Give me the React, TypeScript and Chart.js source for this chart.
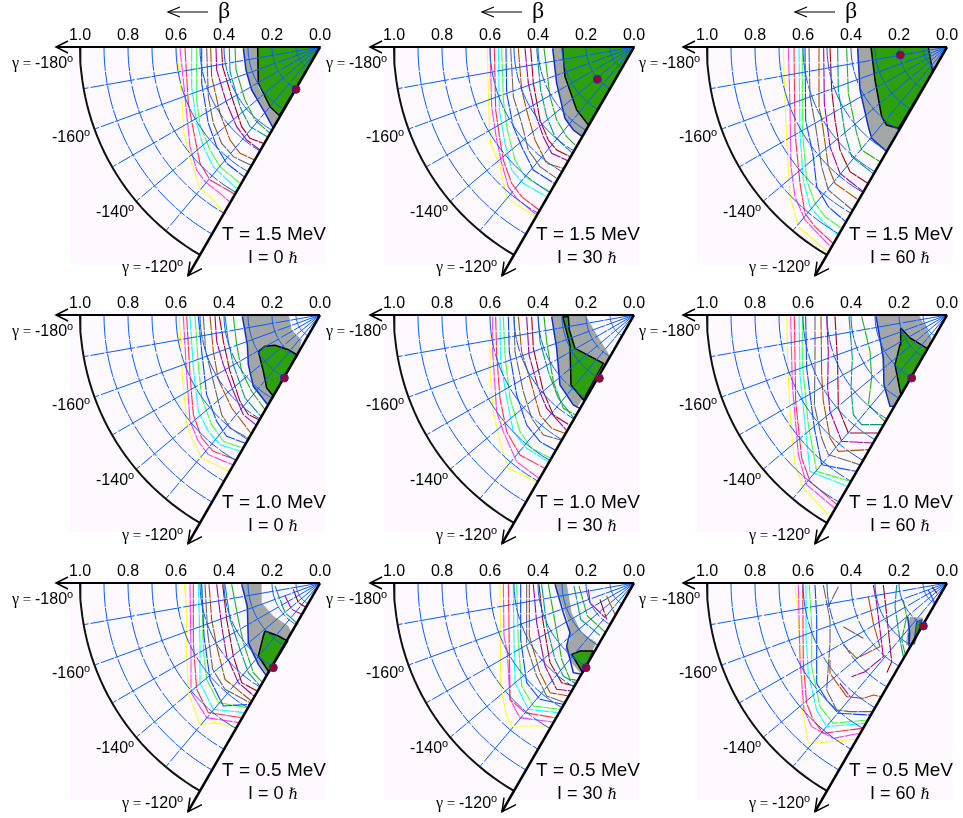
import React, { useEffect, useRef } from "react";
import { Chart, registerables } from "chart.js";
Chart.register(...registerables);

// Deformation plane coordinates: u = beta*cos(gamma+180), v = beta*sin(gamma+180), in 1/720 of beta.
const UNITS = 720;
const betaTicks = [1.0, 0.8, 0.6, 0.4, 0.2, 0.0];
const gridBetas = [0.1, 0.2, 0.3, 0.4, 0.5, 0.6, 0.7, 0.8, 0.9];
const gridGammas = [-170, -160, -150, -140, -130];
const gammaLabels = ["-180", "-160", "-140", "-120"];
const temperatures = ["1.5", "1.0", "0.5"];
const spins = ["0", "30", "60"];
const levelColors = ["#ffff20", "#ff40ee", "#ff3050", "#10ffff", "#40ff40", "#0848ff", "#666666", "#a85400", "#a000a0", "#a00018", "#009c80", "#20b020", "#1030c0"];

const p1Levels = [
  [430,4,415,149,408,259,385,349,360,424,320,459,288,499],
  [420,4,405,149,390,299,370,369,345,404,300,439,272,464],
  [405,4,395,169,380,249,360,349,330,399,258,440],
  [385,4,385,119,370,229,350,299,320,359,250,425],
  [370,4,370,159,360,234,330,309,300,359,240,409],
  [355,4,355,109,335,229,310,299,280,349,228,389],
  [340,4,335,149,320,229,295,289,260,329,208,354],
  [328,4,325,89,300,199,270,279,240,319,196,339],
  [312,4,310,69,280,169,250,239,220,279,180,309],
  [295,4,292,59,265,149,235,239,210,274,170,289],
  [272,4,270,74,240,179,210,239,158,269],
  [255,4,252,69,225,159,195,219,150,259],
  [230,4,222,69,205,129,170,189,140,244],
];
const p1Gray = [230,0,222,69,205,129,170,189,140,244,122,209,150,179,185,119,187,0];
const p1Green = [187,0,185,109,150,179,122,206,0,0];
const p1Marker = [72,127];

const p2Levels = [
  [440,4,437,129,434,239,430,289,402,359,382,449,357,469,296,509],
  [432,4,427,179,412,279,397,349,377,419,352,454,292,504],
  [419,4,415,189,402,279,392,339,367,409,337,449,285,489],
  [407,4,404,189,387,289,367,369,332,409,262,449],
  [397,4,392,159,380,249,357,339,327,389,253,434],
  [384,4,382,139,362,239,337,299,302,369,240,409],
  [370,4,362,149,337,229,317,309,282,359,232,394],
  [347,4,337,129,317,209,297,279,262,349,212,364],
  [327,4,317,109,297,199,272,269,247,319,199,341],
  [310,4,302,109,282,219,257,279,232,309,192,329],
  [292,4,280,129,262,209,237,269,207,299,184,319],
  [270,4,252,149,232,219,202,269,172,299],
  [244,4,232,109,207,214,182,249,155,269],
];
const p2Gray = [244,0,232,109,207,214,182,249,155,269,137,234,172,189,207,89,215,0];
const p2Green = [215,0,207,89,172,189,137,234,0,0];
const p2Marker = [110,97];

const p3Levels = [
  [491,4,486,159,481,279,471,449,446,539,358,614],
  [476,4,471,179,468,359,456,449,426,519,350,599],
  [459,4,456,259,441,409,426,499,396,539,342,589],
  [444,4,441,259,431,399,411,479,376,519,328,564],
  [434,4,434,249,421,399,396,469,366,509,316,544],
  [426,4,424,219,401,329,391,419,356,479,304,524],
  [414,4,411,149,394,239,376,359,356,429,284,489],
  [384,4,384,179,374,229,356,359,336,409,266,459],
  [370,4,368,169,351,299,321,379,252,434],
  [351,4,346,129,336,219,321,309,291,374,238,409],
  [328,4,326,129,306,259,286,329,222,379],
  [301,4,296,139,271,259,256,309,201,344],
  [268,4,261,129,236,239,226,274,181,314],
];
const p3Gray = [268,0,261,129,236,239,226,274,181,314,146,244,181,234,196,209,216,99,228,0];
const p3Green = [228,0,216,99,196,209,181,234,146,244,43,74,56,0];
const p3GrayCorner = [56,0,43,74,0,0];
const p3Marker = [140,24];

const p4Levels = [
  [422,4,413,179,400,329,385,369,355,429,273,469],
  [410,4,400,179,390,319,365,379,335,419,262,449],
  [400,4,390,179,380,299,355,369,320,409,253,434],
  [390,4,380,159,365,289,335,349,300,389,238,409],
  [375,4,365,149,355,249,325,329,290,379,232,399],
  [365,4,355,109,340,239,310,319,280,364,225,384],
  [350,4,343,109,325,179,295,299,270,339,216,369],
  [330,4,320,109,305,194,265,279,208,354],
  [315,4,310,79,290,149,260,229,230,299,193,329],
  [302,4,290,79,270,169,240,259,215,299,183,314],
  [285,4,275,79,260,149,225,249,177,304],
  [260,4,250,89,235,169,205,229,165,284],
  [233,4,218,89,215,149,200,214,157,269],
];
const p4Gray = [233,0,218,89,215,149,200,214,155,269,65,117,55,74,85,44,93,0];
const p4Green = [185,109,165,94,135,91,95,104,68,120,140,244,160,219,170,169];
const p4Marker = [107,189];

const p5Levels = [
  [432,5,432,170,422,290,402,380,377,460,292,500],
  [424,5,424,110,412,290,392,350,352,440,285,490],
  [415,5,412,120,402,250,382,350,342,420,268,460],
  [402,5,400,140,382,250,362,350,322,400,257,440],
  [392,5,387,120,372,250,342,350,307,400,250,430],
  [377,5,374,110,352,240,322,330,282,380,237,405],
  [360,5,357,110,332,230,307,310,272,360,220,375],
  [347,5,337,110,307,210,282,300,247,340,208,355],
  [322,5,315,120,287,220,262,280,203,345],
  [307,5,302,100,272,230,242,300,194,330],
  [287,5,282,80,257,170,227,250,180,310],
  [270,5,262,80,242,200,212,280,175,300],
  [247,5,232,100,222,210,182,270,162,280],
];
const p5Gray = [247,0,232,100,222,210,172,280,75,125,77,115,117,50,145,0];
const p5Green = [214,5,192,90,189,210,152,255,92,145,177,100,194,45,197,5];
const p5Marker = [104,190];

const p6Levels = [
  [481,4,478,149,468,339,456,449,431,519,351,604],
  [469,4,464,209,446,419,421,509,338,579],
  [458,4,454,259,436,429,411,499,330,569],
  [444,4,441,179,426,329,411,469,300,514],
  [434,4,434,149,416,329,391,469,290,499],
  [424,4,421,159,398,339,376,449,273,469],
  [396,4,396,149,398,269,376,369,356,419,262,449],
  [378,4,376,179,371,259,351,369,326,409,236,404],
  [361,4,356,109,358,219,351,289,316,379,224,384],
  [336,4,328,149,326,279,296,354,208,354],
  [294,4,284,129,288,219,281,299,256,329,192,329],
  [256,4,231,109,226,189,236,269,187,319],
  [213,4,191,129,189,209,171,274,158,274],
];
const p6Gray = [213,0,196,99,189,219,171,274,158,274,150,260,58,101,46,70,84,0];
const p6Green = [139,39,111,69,58,101,138,241,156,149,141,89];
const p6Marker = [106,189];

const p7Levels = [
  [407,4,400,79,400,209,395,329,360,424,315,419,252,434],
  [390,4,387,219,387,329,340,404,242,419],
  [380,4,380,179,370,319,335,389,235,404],
  [365,4,360,179,360,299,320,379,227,389],
  [355,4,350,199,340,289,305,359,218,374],
  [355,4,348,159,330,289,290,369,213,364],
  [345,4,337,149,322,259,285,319,210,359],
  [333,4,325,109,310,189,285,289,206,354],
  [310,4,295,129,280,219,245,299,198,339],
  [292,4,280,109,260,219,235,299,189,324],
  [285,4,270,109,240,199,215,269,180,309],
  [265,4,245,109,230,179,200,269,172,299],
  [235,4,218,69,215,179,185,244,160,279],
];
const p7Gray = [235,0,218,89,215,189,195,229,158,274,86,149,95,129,140,99,175,59,175,0];
const p7Green = [165,144,125,159,97,174,153,267,185,219,170,159];
const p7Marker = [140,254];
const p7Extra = [
  [10,135,9,105,89,65,124],
  [8,105,39,85,79,55,94],
  [9,80,19,65,59,40,74],
];

const p8Levels = [
  [402,4,400,309,382,399,367,429,250,429],
  [392,4,390,159,380,209,372,349,342,404,244,417],
  [377,4,374,199,372,349,327,389,237,404],
  [362,4,360,179,357,299,317,379,228,389],
  [352,4,347,179,337,309,302,369,222,379],
  [340,4,340,169,322,299,282,349,213,364],
  [322,4,322,189,292,279,262,339,207,359],
  [314,4,314,159,282,269,252,329,197,339],
  [302,4,292,119,267,249,232,319,187,324],
  [285,4,274,109,252,239,217,299,179,309],
  [277,4,262,129,237,229,212,279,174,302],
  [257,4,242,89,217,229,192,289,168,292],
  [237,4,212,89,192,149,202,189,182,269,157,274],
];
const p8Gray = [237,0,197,119,192,169,207,199,187,239,162,269,112,179,157,149,187,89,202,0];
const p8Green = [187,214,162,204,122,204,154,269];
const p8Marker = [144,254];
const p8Extra = [
  [10,180,9,160,109,100,159],
  [11,165,9,140,99,85,149],
  [8,137,19,132,59,87,104],
  [9,102,49,82,109],
  [7,82,39,57,94],
];

const p9Levels = [
  [456,6,450,60,435,290,436,370,416,480,401,481,268,468],
  [446,6,441,231,429,381,406,431,341,466,261,451],
  [433,6,431,241,421,361,401,411,371,451,254,436],
  [423,6,423,161,416,271,391,381,361,431,245,421],
  [413,6,406,131,406,251,381,371,341,421,237,411],
  [396,6,391,101,391,301,361,351,326,391,231,396],
  [371,6,351,111,351,181,361,321,331,381,291,386,223,386],
  [351,231,351,271,301,341,251,346,221,336,196,341],
  [221,6,211,61,191,221,246,266,286,281],
  [191,6,176,141,166,236,181,271],
  [151,6,156,71,141,171,131,221],
  [131,51,121,101,136,171,126,211],
  [118,101,112,150,114,190],
];
const p9Gray = [111,101,72,104,96,186,123,186,116,126];
const p9Green = [91,116,74,110,88,150,100,183];
const p9Marker = [71,129];
const p9Extra = [
  [6,311,131,251,166],
  [6,326,11,356,71],
  [7,236,41,221,121,201,191,271,226,311,186],
  [8,321,301,291,341],
  [5,56,21,36,61],
  [9,45,11,30,31],
];

const panels = [
  { levels: p1Levels, gray: [p1Gray], green: p1Green, marker: p1Marker, extra: [] as number[][] },
  { levels: p2Levels, gray: [p2Gray], green: p2Green, marker: p2Marker, extra: [] as number[][] },
  { levels: p3Levels, gray: [p3Gray, p3GrayCorner], green: p3Green, marker: p3Marker, extra: [] as number[][] },
  { levels: p4Levels, gray: [p4Gray], green: p4Green, marker: p4Marker, extra: [] as number[][] },
  { levels: p5Levels, gray: [p5Gray], green: p5Green, marker: p5Marker, extra: [] as number[][] },
  { levels: p6Levels, gray: [p6Gray], green: p6Green, marker: p6Marker, extra: [] as number[][] },
  { levels: p7Levels, gray: [p7Gray], green: p7Green, marker: p7Marker, extra: p7Extra },
  { levels: p8Levels, gray: [p8Gray], green: p8Green, marker: p8Marker, extra: p8Extra },
  { levels: p9Levels, gray: [p9Gray], green: p9Green, marker: p9Marker, extra: p9Extra },
];

const colX = [320, 634, 947];
const rowY = [47, 315, 583];
const SANS = '"Liberation Sans"';
const SERIF = '"Liberation Serif"';

const pts = (flat: number[]) => {
  const out: { x: number; y: number }[] = [];
  for (let i = 0; i + 1 < flat.length; i += 2) out.push({ x: flat[i], y: flat[i + 1] });
  return out;
};
const polar = (beta: number, gamma: number) => {
  const t = ((gamma + 180) * Math.PI) / 180;
  return { x: beta * UNITS * Math.cos(t), y: beta * UNITS * Math.sin(t) };
};
const line = (data: any[], color: string, width: number, dash: number[] = []) => ({
  data, borderColor: color, borderWidth: width, borderDash: dash, pointRadius: 0,
  fill: false, tension: 0, clip: false as const,
});

function buildDatasets(p: (typeof panels)[number], row: number, index: number) {
  const ds: any[] = [];
  for (const g of p.gray) ds.push({ ...line(pts(g), "#a2a6a6", 0), fill: "shape", backgroundColor: "#a2a6a6" });
  const greenPts = pts(p.green);
  const tiny = index === 8;
  ds.push({ ...line([...greenPts, greenPts[0]], tiny ? "#1030c0" : "#000000", tiny ? 1 : 1.5), fill: "shape", backgroundColor: "#2ea00e" });
  p.levels.forEach((c, i) => ds.push(line(pts(c), levelColors[i], i === 12 ? 1.5 : 1.1, i === 12 ? [] : [14, 1])));
  p.extra.forEach((c) => ds.push(line(pts(c.slice(1)), levelColors[c[0]], 1.1, [14, 1])));
  for (const b of gridBetas) {
    const arc = [];
    for (let g = -180; g <= -120; g += 2) arc.push(polar(b, g));
    ds.push(line(arc, "#0a5cff", 1, [24, 1, 12, 2]));
  }
  for (const g of gridGammas) ds.push(line([polar(0, g), polar(1, g)], "#0a5cff", 1, [30, 1, 14, 2]));
  const rim = [];
  for (let g = -180; g <= -120; g += 2) rim.push(polar(1, g));
  ds.push(line(rim, "#111111", 2));
  ds.push(line([polar(0, -180), polar(1.1, -180)], "#000000", 2));
  ds.push(line([polar(0, -120), polar(1.1, -120)], "#000000", 2.5));
  const tipA = polar(1.1, -180);
  ds.push(line([{ x: tipA.x - 36, y: -18 }, tipA, { x: tipA.x - 36, y: 18 }], "#000000", 1.5));
  const tipB = polar(1.1, -120);
  ds.push(line([{ x: tipB.x - 6, y: tipB.y - 42 }, tipB, { x: tipB.x - 42, y: tipB.y - 21 }], "#000000", 1.5));
  if (row === 0) {
    ds.push(line([{ x: 336, y: -105 }, { x: 456, y: -105 }], "#000000", 1.2));
    ds.push(line([{ x: 420, y: -120 }, { x: 456, y: -105 }, { x: 420, y: -90 }], "#000000", 1.2));
  }
  ds.push({
    data: pts(p.marker), showLine: false, pointRadius: 4, pointBackgroundColor: "#a00020",
    pointBorderColor: "#2030c0", pointBorderWidth: 1, clip: false,
  });
  ds.forEach((d, i) => (d.order = -i));
  return ds;
}

function runs(ctx: CanvasRenderingContext2D, x: number, y: number, parts: [string, string, number][]) {
  let cx = x;
  for (const [text, font, dy] of parts) {
    ctx.font = font;
    ctx.fillText(text, cx, y + dy);
    cx += ctx.measureText(text).width;
  }
}

function Panel({ index }: { index: number }) {
  const ref = useRef<HTMLCanvasElement>(null);
  const col = index % 3;
  const row = Math.floor(index / 3);
  useEffect(() => {
    const px0 = 320; // canvas x of the beta = 0 corner
    const py0 = 47; // canvas y of the beta = 0 corner
    const plugin = {
      id: "panelDecor",
      beforeDraw(chart: any) {
        const c = chart.ctx;
        c.save();
        c.fillStyle = "#fdf9ff";
        c.fillRect(px0 - 250, py0 - 5, 255, 222);
        c.restore();
      },
      afterDatasetsDraw(chart: any) {
        const c = chart.ctx;
        c.save();
        c.fillStyle = "#000";
        c.textBaseline = "alphabetic";
        const num = `16px ${SANS}`;
        const gam = `16px ${SERIF}`;
        const sup = `11px ${SANS}`;
        const lab = (dx: number, dy: number, txt: string, pre: boolean) => {
          const parts: [string, string, number][] = [];
          if (pre) parts.push(["γ", gam, 0], [" = ", `15px ${SERIF}`, 0]);
          parts.push([txt, num, 0], ["o", sup, -6]);
          runs(c, px0 + dx, py0 + dy, parts);
        };
        lab(-308, 21, gammaLabels[0], true);
        lab(-268, 95, gammaLabels[1], false);
        lab(-224, 170, gammaLabels[2], false);
        lab(-198, 225, gammaLabels[3], true);
        runs(c, px0 - 98, py0 + 193, [[`T = ${temperatures[row]} MeV`, `19px ${SANS}`, 0]]);
        runs(c, px0 + (col === 0 ? -72 : -77), py0 + 216, [
          [`I = ${spins[col]} `, `18px ${SANS}`, 0],
          ["ℏ", `italic 15px "DejaVu Serif"`, 0],
        ]);
        if (row === 0) runs(c, px0 - 102, py0 - 29, [["β", `24px ${SERIF}`, 0]]);
        c.restore();
      },
    };
    const chart = new Chart(ref.current as HTMLCanvasElement, {
      type: "line",
      data: { datasets: buildDatasets(panels[index], row, index) },
      plugins: [plugin],
      options: {
        animation: false,
        responsive: false,
        layout: { padding: 0, autoPadding: false },
        plugins: { legend: { display: false }, tooltip: { enabled: false } },
        events: [],
        scales: {
          x: {
            type: "linear", position: "top", reverse: true, min: -45, max: 960,
            grid: { display: false, drawTicks: false }, border: { display: false },
            afterFit: (s: any) => { s.height = py0; },
            afterBuildTicks: (s: any) => { s.ticks = betaTicks.map((b) => ({ value: b * UNITS })); },
            ticks: {
              padding: 2, color: "#000", maxRotation: 0, autoSkip: false,
              font: { family: "Liberation Sans", size: 16 },
              callback: (v: any) => (Number(v) / UNITS).toFixed(1),
            },
          },
          y: { type: "linear", display: false, reverse: true, min: 0, max: 714 },
        },
      } as any,
    });
    return () => chart.destroy();
  }, [index, row, col]);
  return (
    <canvas
      ref={ref}
      width={335}
      height={285}
      style={{ position: "absolute", left: colX[col] - 320, top: rowY[row] - 47, width: 335, height: 285 }}
    />
  );
}

export default function App() {
  return (
    <div style={{ position: "absolute", left: 0, top: 0, width: 963, height: 818, overflow: "hidden", background: "#fff" }}>
      {panels.map((_, i) => <Panel key={i} index={i} />)}
    </div>
  );
}
